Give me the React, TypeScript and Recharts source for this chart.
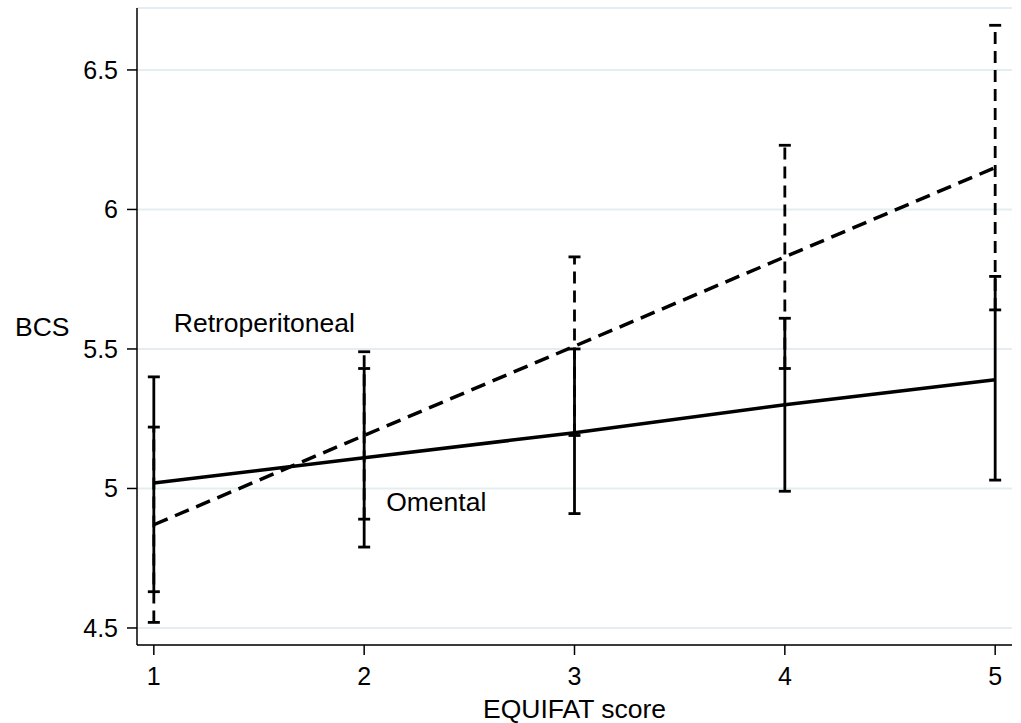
import { ComposedChart, Line, ErrorBar, XAxis, YAxis, CartesianGrid, ReferenceDot } from 'recharts';

const scores = [1, 2, 3, 4, 5];

const omental = [5.02, 5.11, 5.2, 5.3, 5.39];
const omentalLow = [4.63, 4.79, 4.91, 4.99, 5.03];
const omentalHigh = [5.4, 5.43, 5.5, 5.61, 5.76];

const retro = [4.87, 5.19, 5.51, 5.83, 6.15];
const retroLow = [4.52, 4.89, 5.19, 5.43, 5.64];
const retroHigh = [5.22, 5.49, 5.83, 6.23, 6.66];

const yTicks = [4.5, 5, 5.5, 6, 6.5];

const data = scores.map((s, i) => ({
  score: s,
  omental: omental[i],
  omentalErr: [omental[i] - omentalLow[i], omentalHigh[i] - omental[i]],
  retro: retro[i],
  retroErr: [retro[i] - retroLow[i], retroHigh[i] - retro[i]]
}));

const font = '"Liberation Sans", Arial, Helvetica, sans-serif';

const App = () => {
  return (
    <div style={{ position: 'absolute', left: 0, top: 0, background: '#fff', fontFamily: font }}>
      <ComposedChart width={1021} height={723} data={data} margin={{ top: 8, right: 9, left: 0, bottom: 0 }}>
        <CartesianGrid vertical={false} stroke="#e4eef0" strokeWidth={2} />
        <XAxis
          dataKey="score"
          type="number"
          domain={[0.92, 5.08]}
          ticks={scores}
          height={78}
          tickSize={10}
          tickMargin={12}
          stroke="#000"
          strokeWidth={1.5}
          tick={{ fill: '#000', fontSize: 25, fontFamily: font }}
          label={{ value: 'EQUIFAT score', position: 'insideBottom', offset: 5, fill: '#000', fontSize: 26.5, fontFamily: font }}
        />
        <YAxis
          type="number"
          domain={[4.439, 6.722]}
          ticks={yTicks}
          width={137}
          tickSize={10}
          tickMargin={9}
          stroke="#000"
          strokeWidth={1.5}
          tick={{ fill: '#000', fontSize: 25, fontFamily: font }}
          label={{ value: 'BCS', position: 'insideLeft', offset: 15, fill: '#000', fontSize: 26.5, fontFamily: font }}
        />
        <Line
          dataKey="retro"
          type="linear"
          stroke="#000"
          strokeWidth={3.5}
          strokeDasharray="15 8"
          dot={false}
          activeDot={false}
          isAnimationActive={false}
        >
          <ErrorBar dataKey="retroErr" width={6} stroke="#000" strokeWidth={2.8} strokeDasharray="12 7" isAnimationActive={false} />
        </Line>
        <Line
          dataKey="omental"
          type="linear"
          stroke="#000"
          strokeWidth={3.5}
          dot={false}
          activeDot={false}
          isAnimationActive={false}
        >
          <ErrorBar dataKey="omentalErr" width={6} stroke="#000" strokeWidth={2.8} isAnimationActive={false} />
        </Line>
        <ReferenceDot
          x={1.09}
          y={5.595}
          r={1}
          fill="none"
          stroke="none"
          label={{ value: 'Retroperitoneal', position: 'right', offset: 0, fill: '#000', fontSize: 26.5, fontFamily: font }}
        />
        <ReferenceDot
          x={2.1}
          y={4.953}
          r={1}
          fill="none"
          stroke="none"
          label={{ value: 'Omental', position: 'right', offset: 0, fill: '#000', fontSize: 26.5, fontFamily: font }}
        />
      </ComposedChart>
    </div>
  );
};

export default App;
